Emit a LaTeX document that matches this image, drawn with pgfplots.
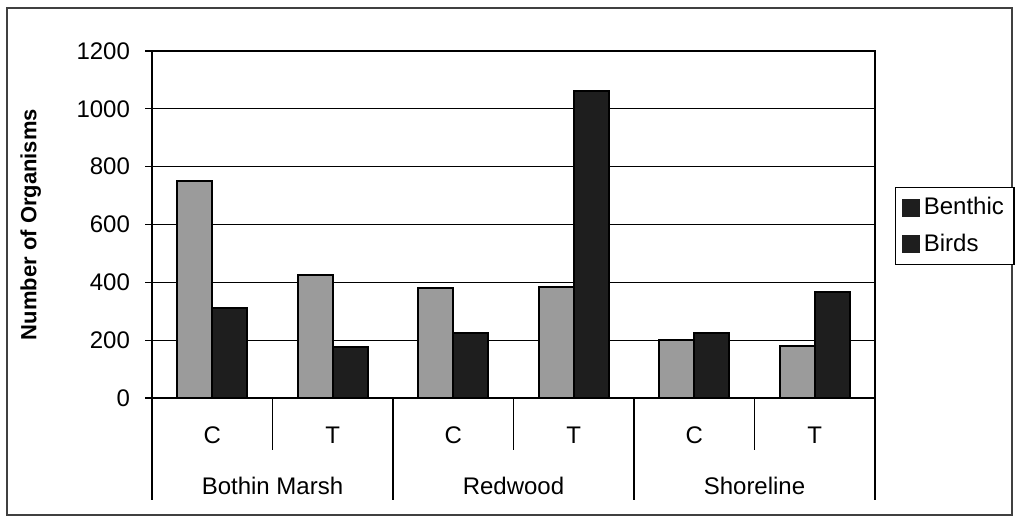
\documentclass[border=0pt]{standalone}
\usepackage{pgfplots}
\pgfplotsset{compat=1.18}
\usepackage{fontspec}
\setmainfont{Liberation Sans}

\definecolor{benthic}{RGB}{155,155,155}
\definecolor{birds}{RGB}{30,30,30}

\begin{document}
\begin{tikzpicture}
% page frame and chart border
\useasboundingbox (0,0) rectangle (507.5pt,260.5pt);
\draw[line width=0.6pt, black!75] (3.5pt,3pt) rectangle (506pt,256.5pt);

\begin{axis}[
  at={(76pt,61.5pt)}, anchor=south west,
  scale only axis,
  width=361.5pt, height=173.5pt,
  ybar=0pt, bar width=17.5pt,
  xmin=-0.5, xmax=5.5,
  ymin=0, ymax=1200,
  ytick={0,200,...,1200},
  ymajorgrids,
  grid style={black, line width=0.6pt},
  axis line style={black, line width=0.6pt},
  tick style={black, line width=0.6pt},
  major tick length=3.5pt,
  ytick pos=left, tick align=outside,
  xtick={0,...,5},
  xticklabels={C,T,C,T,C,T},
  major x tick style={draw=none},
  xticklabel style={anchor=center, yshift=-15pt, font=\fontsize{12}{14}\selectfont},
  yticklabel style={font=\fontsize{12}{14}\selectfont, xshift=-4pt},
  /pgf/number format/assume math mode=true,
  /pgf/number format/1000 sep={},
  ylabel={\bfseries Number of Organisms},
  ylabel style={font=\fontsize{11}{13}\selectfont, at={(-52pt,0.5)}, anchor=south, rotate=0},
  legend style={at={(1.028,0.496)}, anchor=west, draw=black, line width=0.6pt,
    font=\fontsize{12}{14}\selectfont, row sep=4pt, inner sep=3pt,
    legend cell align=left},
  legend image code/.code={\fill[birds] (0pt,-4pt) rectangle (8pt,4pt);},
  clip=false,
]
\addplot[fill=benthic, draw=black, line width=1pt] coordinates {
  (0,750) (1,425) (2,380) (3,385) (4,200) (5,180)};
\addlegendentry{Benthic}
\addplot[fill=birds, draw=black, line width=1pt] coordinates {
  (0,310) (1,175) (2,225) (3,1060) (4,225) (5,365)};
\addlegendentry{Birds}

% category separators
\pgfplotsinvokeforeach{0.5,2.5,4.5}{
  \draw[black, line width=0.6pt] (axis cs:#1,0) -- ([yshift=-26pt]axis cs:#1,0);
}
% group separators
\pgfplotsinvokeforeach{-0.5,1.5,3.5,5.5}{
  \draw[black, line width=0.6pt] (axis cs:#1,0) -- ([yshift=-51pt]axis cs:#1,0);
}
% group names
\node[font=\fontsize{12}{14}\selectfont] at ([yshift=-44pt]axis cs:0.5,0) {Bothin Marsh};
\node[font=\fontsize{12}{14}\selectfont] at ([yshift=-44pt]axis cs:2.5,0) {Redwood};
\node[font=\fontsize{12}{14}\selectfont] at ([yshift=-44pt]axis cs:4.5,0) {Shoreline};
\end{axis}
\end{tikzpicture}
\end{document}
